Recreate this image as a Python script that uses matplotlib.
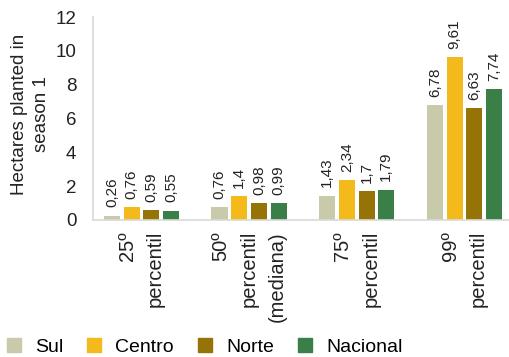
import numpy as np
import matplotlib
matplotlib.use("Agg")
import matplotlib.pyplot as plt
from matplotlib.patches import Patch

plt.rcParams["font.family"] = ["Liberation Sans", "DejaVu Sans"]

categories = ["25º\npercentil", "50º\npercentil\n(mediana)", "75º\npercentil", "99º\npercentil"]
series = ["Sul", "Centro", "Norte", "Nacional"]
sul = [0.26, 0.76, 1.43, 6.78]
centro = [0.76, 1.4, 2.34, 9.61]
norte = [0.59, 0.98, 1.7, 6.63]
nacional = [0.55, 0.99, 1.79, 7.74]
colors = ["#C9CAA9", "#F4B91A", "#967307", "#3A7F47"]

values = [sul, centro, norte, nacional]

fig = plt.figure(figsize=(5.1, 3.57), dpi=100)
# y=0 sits at pixel row 220, y=12 at row 17
ax = fig.add_axes([93 / 510, 137 / 357, 430.7 / 510, 203 / 357])

x = np.arange(len(categories))
step = 0.183
width = 0.15
for i, (vals, col) in enumerate(zip(values, colors)):
    pos = x + (i - 1.5) * step
    ax.bar(pos, vals, width=width, color=col, zorder=2)
    for px, v in zip(pos, vals):
        txt = f"{v:g}".replace(".", ",")
        ax.annotate(txt, (px, v), xytext=(0, 6), textcoords="offset points",
                    rotation=90, ha="center", va="bottom", fontsize=11,
                    color="#222222")

ax.set_ylim(0, 12)
ax.set_xlim(-0.45, 3.55)
ax.set_yticks(range(0, 13, 2))
ax.set_xticks(x)
ax.set_xticklabels(categories, rotation=90, va="top", ha="center",
                   multialignment="right", fontsize=14.5, linespacing=1.6)
ax.tick_params(axis="y", length=0, pad=12, labelsize=13.5, colors="#222222")
ax.tick_params(axis="x", length=0, pad=8, colors="#222222")

for side in ["top", "right"]:
    ax.spines[side].set_visible(False)
ax.spines["left"].set_color("#D9D9D9")
ax.spines["bottom"].set_color("#D9D9D9")
ax.spines["left"].set_linewidth(1.2)
ax.spines["bottom"].set_linewidth(1.2)

fig.text(0.06, 0.68, "Hectares planted in\nseason 1", rotation=90,
         ha="center", va="center", fontsize=13.5, linespacing=1.35,
         color="#222222")

handles = [Patch(color=c, label=s) for s, c in zip(series, colors)]
fig.legend(handles=handles, loc="center left",
           bbox_to_anchor=(-3 / 510, 10 / 357), ncol=4, frameon=False,
           fontsize=14, borderpad=0, handlelength=0.72, handleheight=0.72,
           handletextpad=0.72, columnspacing=1.25)

fig.savefig("out.png", dpi=100)
